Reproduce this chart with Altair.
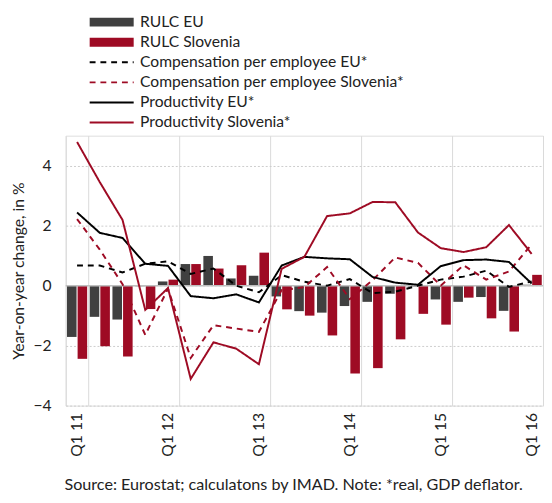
import altair as alt
import pandas as pd

quarters = ["Q1 11", "Q2 11", "Q3 11", "Q4 11",
            "Q1 12", "Q2 12", "Q3 12", "Q4 12",
            "Q1 13", "Q2 13", "Q3 13", "Q4 13",
            "Q1 14", "Q2 14", "Q3 14", "Q4 14",
            "Q1 15", "Q2 15", "Q3 15", "Q4 15",
            "Q1 16"]
tick_labels = ["Q1 11", "Q1 12", "Q1 13", "Q1 14", "Q1 15", "Q1 16"]

rulc_eu = [-1.71, -1.04, -1.13, -0.02, 0.14, 0.72, 0.99, 0.24, 0.33, -0.36, -0.85,
           -0.90, -0.68, -0.54, -0.27, -0.03, -0.46, -0.54, -0.38, -0.84, 0.03]
rulc_si = [-2.44, -2.02, -2.36, -0.78, 0.20, 0.72, 0.57, 0.68, 1.10, -0.79, -1.00,
           -1.66, -2.93, -2.75, -1.79, -0.94, -1.30, -0.40, -1.09, -1.53, 0.36]
comp_eu = [0.67, 0.67, 0.44, 0.73, 0.81, 0.39, 0.57, 0.00, -0.22, 0.35, 0.13,
           0.00, 0.22, -0.25, -0.20, 0.00, 0.20, 0.30, 0.50, -0.04, 0.14]
comp_si = [2.22, 1.20, 0.05, -1.64, -0.10, -2.41, -1.32, -1.43, -1.54, -0.15, -0.05,
           0.62, -0.45, 0.18, 0.94, 0.76, 0.00, 0.68, 0.20, 0.47, 1.38]
prod_eu = [2.44, 1.76, 1.59, 0.73, 0.66, -0.35, -0.42, -0.29, -0.56, 0.67, 0.96,
           0.91, 0.88, 0.29, 0.10, 0.03, 0.65, 0.85, 0.87, 0.79, 0.07]
prod_si = [4.79, 3.45, 2.19, -0.81, -0.08, -3.11, -1.89, -2.10, -2.62, 0.56, 0.96,
           2.32, 2.41, 2.79, 2.78, 1.77, 1.25, 1.12, 1.28, 2.02, 1.06]

bar_names = ["RULC EU", "RULC Slovenia"]
line_names = ["Compensation per employee EU*", "Compensation per employee Slovenia*",
              "Productivity EU*", "Productivity Slovenia*"]

GREY = "#404040"
RED = "#9e0b24"
FONT = "Lato"

bars = pd.DataFrame(
    [{"q": q, "series": bar_names[0], "v": v} for q, v in zip(quarters, rulc_eu)]
    + [{"q": q, "series": bar_names[1], "v": v} for q, v in zip(quarters, rulc_si)]
)
lines = pd.DataFrame(
    [{"q": q, "series": name, "v": v}
     for name, vals in zip(line_names, [comp_eu, comp_si, prod_eu, prod_si])
     for q, v in zip(quarters, vals)]
)

x_enc = alt.X(
    "q:N", sort=quarters, title=None,
    scale=alt.Scale(domain=quarters, paddingInner=0, paddingOuter=0),
    axis=alt.Axis(values=tick_labels, labelAngle=-90, tickBand="extent",
                  ticks=False, tickSize=0, labelPadding=7, labelFontSize=16,
                  labelFont=FONT, labelColor="#222222", domain=False,
                  grid=True, gridColor="#d9d9d9", gridWidth=1),
)
y_enc = alt.Y(
    "v:Q", title="Year-on-year change, in %",
    scale=alt.Scale(domain=[-4, 5], nice=False, zero=False),
    axis=alt.Axis(values=[-4, -2, 0, 2, 4], ticks=False, tickSize=0, domain=False,
                  labelPadding=15, labelFontSize=16, labelFont=FONT,
                  labelColor="#222222", titleFontSize=16, titleFont=FONT,
                  titleFontWeight="normal", titleColor="#222222", titlePadding=7,
                  grid=True, gridColor="#cccccc", gridDash=[2, 2], gridWidth=1),
)

common_legend = dict(
    title=None, orient="none", padding=0, symbolSize=100,
    labelFontSize=16, labelFont=FONT, labelColor="#222222", labelOffset=21,
    labelLimit=600, rowPadding=4.5,
)
bar_legend = alt.Legend(
    legendX=39, legendY=-124,
    symbolType="M-4.5,-0.9H4.5V0.9H-4.5Z", symbolStrokeWidth=0,
    **common_legend,
)
line_legend = alt.Legend(
    legendX=39, legendY=-83,
    symbolType="M-4.5,0H4.5", symbolStrokeWidth=2,
    **common_legend,
)

bar_layer = alt.Chart(bars).mark_bar().encode(
    x=x_enc,
    y=y_enc,
    xOffset=alt.XOffset("series:N", sort=bar_names,
                        scale=alt.Scale(domain=bar_names, paddingInner=0.1, paddingOuter=0.12)),
    fill=alt.Fill("series:N", sort=bar_names,
                  scale=alt.Scale(domain=bar_names, range=[GREY, RED]),
                  legend=bar_legend),
)

zero_rule = alt.Chart(pd.DataFrame({"v": [0]})).mark_rule(
    color="#bfbfbf", strokeWidth=1.5
).encode(y=alt.Y("v:Q"))

line_layer = alt.Chart(lines).mark_line(strokeWidth=2).encode(
    x=alt.X("q:N", sort=quarters),
    y=alt.Y("v:Q"),
    stroke=alt.Stroke("series:N", sort=line_names,
                      scale=alt.Scale(domain=line_names, range=["#000000", RED, "#000000", RED]),
                      legend=line_legend),
    strokeDash=alt.StrokeDash("series:N", sort=line_names,
                              scale=alt.Scale(domain=line_names,
                                              range=[[6, 5], [6, 5], [1, 0], [1, 0]]),
                              legend=line_legend),
    detail="series:N",
)

chart = alt.layer(bar_layer, zero_rule, line_layer).properties(
    width=488, height=276,
    padding={"left": 2, "top": 1, "right": 0, "bottom": 2},
    title=alt.TitleParams(
        text="Source: Eurostat; calculatons by IMAD. Note: *real, GDP deflator.",
        orient="bottom", anchor="middle", fontSize=16.5, font=FONT,
        fontWeight="normal", color="#222222", offset=22, dx=-11,
    ),
).resolve_scale(fill="independent").configure_view(
    stroke="#c8c8c8", strokeWidth=1
).configure(background="white")

chart.save("out.html", embed_options={"renderer": "svg", "actions": False})
